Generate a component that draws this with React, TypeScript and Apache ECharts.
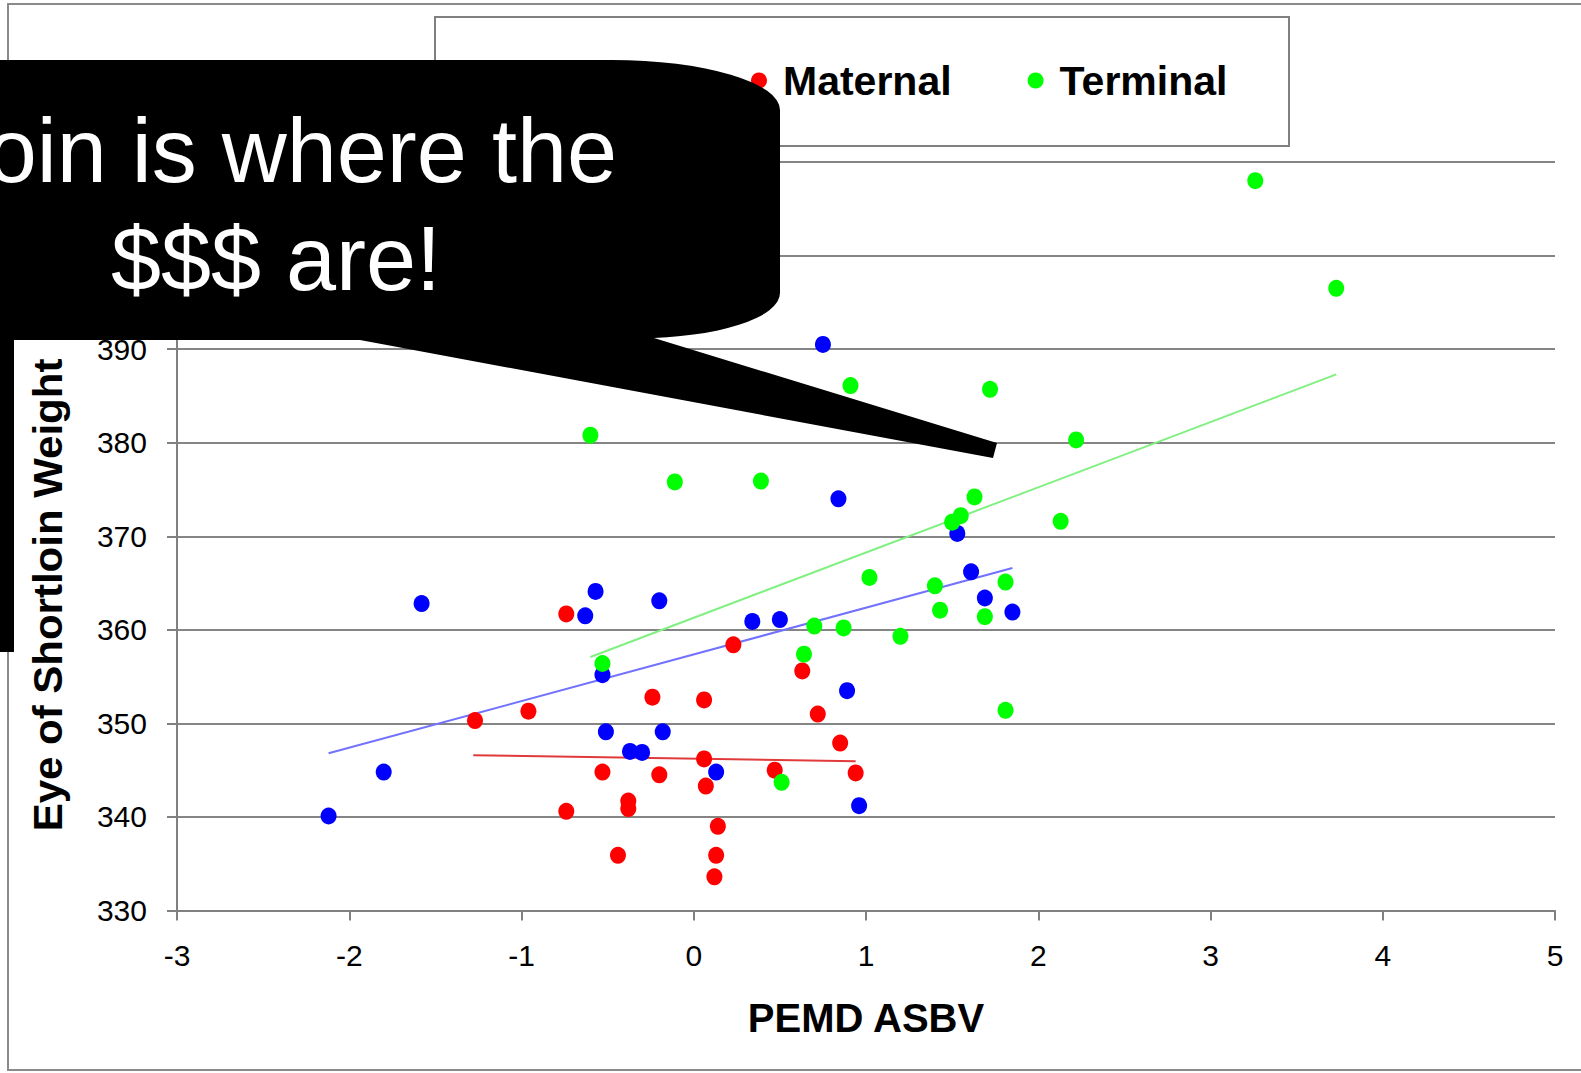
import React, { useEffect, useRef } from "react";
import * as echarts from "echarts";

// ---- data ----
const merinoX = [-2.12, -1.8, -1.58, -0.63, -0.57, -0.53, -0.51, -0.37, -0.3, -0.2, -0.18, 0.13, 0.34, 0.5, 0.75, 0.84, 0.89, 0.96, 1.53, 1.61, 1.69, 1.85];
const merinoY = [340.1, 344.8, 362.8, 361.5, 364.1, 355.2, 349.1, 347.0, 346.9, 363.1, 349.1, 344.8, 360.9, 361.1, 390.5, 374.0, 353.5, 341.2, 370.3, 366.2, 363.4, 361.9];

const maternalX = [-1.27, -0.96, -0.74, -0.74, -0.53, -0.44, -0.38, -0.38, -0.24, -0.2, 0.06, 0.06, 0.07, 0.14, 0.13, 0.12, 0.23, 0.47, 0.63, 0.72, 0.85, 0.94];
const maternalY = [350.3, 351.3, 361.7, 340.6, 344.8, 335.9, 341.7, 340.9, 352.8, 344.5, 352.5, 346.2, 343.3, 339.0, 335.9, 333.6, 358.4, 345.0, 355.6, 351.0, 347.9, 344.7];

const terminalX = [-0.6, -0.53, -0.11, 0.39, 0.51, 0.64, 0.7, 0.87, 0.91, 1.02, 1.2, 1.4, 1.43, 1.5, 1.55, 1.63, 1.69, 1.72, 1.81, 1.81, 2.13, 2.22, 3.26, 3.73];
const terminalY = [380.8, 356.4, 375.8, 375.9, 343.7, 357.4, 360.4, 360.2, 386.1, 365.6, 359.3, 364.7, 362.1, 371.5, 372.2, 374.2, 361.4, 385.7, 365.1, 351.4, 371.6, 380.3, 408.0, 396.5];

// trend lines (end points)
const merinoTrendX = [-2.12, 1.85];
const merinoTrendY = [346.8, 366.6];
const maternalTrendX = [-1.28, 0.94];
const maternalTrendY = [346.6, 345.95];
const terminalTrendX = [-0.6, 3.73];
const terminalTrendY = [357.1, 387.3];

// y tick labels hidden behind the callout in the picture
const hiddenYTicks = [400, 410];

const seriesNames = ["Merino", "Maternal", "Terminal"];
const legendNames = ["Maternal", "Terminal"];
const xTitle = "PEMD ASBV";
const yTitle = "Eye of Shortloin Weight";
const calloutLine1 = "oin is where the";
const calloutLine2 = "$$$ are!";

const FONT = '"Liberation Sans", Arial, Helvetica, sans-serif';

const calloutPath =
  "M -30 60 L 612 60 A 168 50 0 0 1 780 110 L 780 293 A 140 45 0 0 1 640 338 " +
  "L 654 338 L 997 443 L 993 458 L 360 340 L 14 340 L 14 652 L -30 652 Z";
echarts.graphic.registerShape("callout", echarts.graphic.extendPath(calloutPath, {}));

const zip = (xs: number[], ys: number[]) => xs.map((x, i) => [x, ys[i]]);

export default function App() {
  const ref = useRef<HTMLDivElement>(null);
  useEffect(() => {
    if (!ref.current) return;
    const chart = echarts.init(ref.current, null, { renderer: "svg" });
    const axisColor = "#808080";
    const scatterBase = { type: "scatter", symbol: "circle", symbolSize: [16, 17], z: 3 };
    const trendBase = { type: "line", showSymbol: false, symbol: "none", silent: true, z: 2 };
    chart.setOption({
      animation: false,
      backgroundColor: "#ffffff",
      grid: { left: 177, right: 26, top: 162, bottom: 162.5, containLabel: false },
      legend: {
        data: legendNames,
        left: 751,
        top: 60,
        padding: 0,
        icon: "circle",
        itemWidth: 16,
        itemHeight: 16,
        itemGap: 76,
        selectedMode: false,
        textStyle: { fontSize: 41, fontWeight: "bold", fontFamily: FONT, color: "#000", padding: [0, 0, 0, 11] },
        z: 5,
      },
      xAxis: {
        type: "value",
        min: -3,
        max: 5,
        interval: 1,
        name: xTitle,
        nameLocation: "middle",
        nameGap: 87,
        nameTextStyle: { fontSize: 40, fontWeight: "bold", fontFamily: FONT, color: "#000" },
        axisLine: { show: true, onZero: false, lineStyle: { color: axisColor, width: 2 } },
        axisTick: { show: true, inside: false, length: 10, lineStyle: { color: axisColor, width: 2 } },
        axisLabel: { fontSize: 30, fontFamily: FONT, color: "#000", margin: 30 },
        splitLine: { show: false },
      },
      yAxis: {
        type: "value",
        min: 330,
        max: 410,
        interval: 10,
        axisLine: { show: true, onZero: false, lineStyle: { color: axisColor, width: 2 } },
        axisTick: { show: true, inside: false, length: 10, lineStyle: { color: axisColor, width: 2 } },
        axisLabel: {
          fontSize: 30,
          fontFamily: FONT,
          color: "#000",
          margin: 30,
          formatter: (v: number) => (hiddenYTicks.includes(v) ? "" : String(v)),
        },
        splitLine: { show: true, lineStyle: { color: "#858585", width: 2 } },
      },
      series: [
        { ...trendBase, name: "Merino trend", data: zip(merinoTrendX, merinoTrendY), lineStyle: { color: "#7272ff", width: 2 } },
        { ...trendBase, name: "Maternal trend", data: zip(maternalTrendX, maternalTrendY), lineStyle: { color: "#e03a3a", width: 2 } },
        { ...trendBase, name: "Terminal trend", data: zip(terminalTrendX, terminalTrendY), lineStyle: { color: "#80f080", width: 2 } },
        { ...scatterBase, name: seriesNames[0], data: zip(merinoX, merinoY), itemStyle: { color: "#0000ff", opacity: 1 } },
        { ...scatterBase, name: seriesNames[1], data: zip(maternalX, maternalY), itemStyle: { color: "#ff0000", opacity: 1 } },
        { ...scatterBase, name: seriesNames[2], data: zip(terminalX, terminalY), itemStyle: { color: "#00ff00", opacity: 1 } },
      ],
      graphic: [
        {
          type: "rect",
          z: 0,
          silent: true,
          shape: { x: 8, y: 4, width: 1620, height: 1066 },
          style: { fill: "none", stroke: "#8a8a8a", lineWidth: 2 },
        },
        {
          type: "rect",
          z: 1,
          silent: true,
          shape: { x: 435, y: 17, width: 854, height: 129 },
          style: { fill: "#ffffff", stroke: "#808080", lineWidth: 2 },
        },
        {
          type: "text",
          z: 10,
          x: 48,
          y: 595,
          rotation: Math.PI / 2,
          scaleX: 1.05,
          style: {
            text: yTitle,
            fill: "#000",
            fontSize: 40,
            fontWeight: "bold",
            fontFamily: FONT,
            align: "center",
            verticalAlign: "middle",
          },
        },
        {
          type: "callout",
          z: 100,
          x: 0,
          y: 0,
          silent: true,
          style: { fill: "#000000", stroke: "none" },
        },
        {
          type: "text",
          z: 101,
          x: 617,
          y: 151,
          style: { text: calloutLine1, fill: "#ffffff", fontSize: 90, fontFamily: FONT, align: "right", verticalAlign: "middle" },
        },
        {
          type: "text",
          z: 101,
          x: 276,
          y: 259,
          style: { text: calloutLine2, fill: "#ffffff", fontSize: 90, fontFamily: FONT, align: "center", verticalAlign: "middle" },
        },
      ],
    });
    return () => chart.dispose();
  }, []);
  return (
    <div
      ref={ref}
      style={{ position: "absolute", left: 0, top: 0, width: 1581, height: 1073, background: "#fff" }}
    />
  );
}
